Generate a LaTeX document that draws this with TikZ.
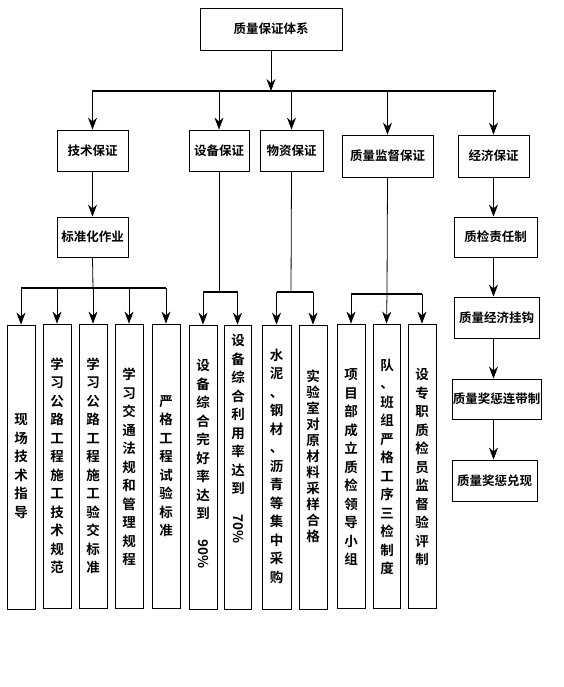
\documentclass[tikz,border=0pt]{standalone}
\usepackage{fontspec}
\usepackage{graphicx}
\setmainfont{Noto Sans CJK SC}[BoldFont={Noto Sans CJK SC Bold}]
\usetikzlibrary{arrows.meta}
\tikzset{
 hbox/.style={draw, line width=0.8pt, inner sep=0pt, font=\fontsize{12.5}{14}\selectfont\bfseries},
 vbox/.style={draw, line width=0.8pt, inner sep=0pt, minimum width=28pt, minimum height=284pt},
 vtext/.style={align=center, inner sep=0pt, font=\fontsize{13.5}{18.5}\selectfont\bfseries},
 arr/.style={line width=0.8pt, -{Stealth[length=12pt,width=9pt]}},
 busline/.style={line width=2pt},
 link/.style={line width=0.8pt}
}
\begin{document}
\begin{tikzpicture}[x=1pt,y=-1pt]
\useasboundingbox (0,0) rectangle (564,687);
% top
\node[hbox, minimum width=142pt, minimum height=42pt] (top) at (271,29) {质量保证体系};
% level 2
\node[hbox, minimum width=71pt, minimum height=41pt] (t1) at (92.5,150.5) {技术保证};
\node[hbox, minimum width=60pt, minimum height=41pt] (t2) at (219,150.5) {设备保证};
\node[hbox, minimum width=63pt, minimum height=41pt] (t3) at (291.5,150.5) {物资保证};
\node[hbox, minimum width=91pt, minimum height=42pt] (t4) at (387.5,156) {质量监督保证};
\node[hbox, minimum width=71pt, minimum height=42pt] (t5) at (493.5,156) {经济保证};
% main bus
\coordinate (busL) at (92,91);
\coordinate (busR) at (496,91);
\coordinate (busM) at (271,91);
\draw[busline] (busL) -- (busR);
\draw[arr] (top.south) -- (busM);
\draw[arr] (t1.north |- busM) -- (t1.north);
\draw[arr] (t2.north |- busM) -- (t2.north);
\draw[arr] (t3.north |- busM) -- (t3.north);
\draw[arr] (t4.north |- busM) -- (t4.north);
\draw[arr] (t5.north |- busM) -- (t5.north);
% technical branch
\node[hbox, minimum width=71pt, minimum height=40pt] (s1) at (92.5,237) {标准化作业};
\draw[arr] (t1.south) -- (s1.north);
% vertical boxes
\node[vbox] (v1) at (21,467) {};
\node[vbox] (v2) at (57,466) {};
\node[vbox] (v3) at (93,466) {};
\node[vbox] (v4) at (129,466) {};
\node[vbox] (v5) at (166,466) {};
\node[vbox] (v6) at (203,467) {};
\node[vbox, minimum width=27pt] (v7) at (237.5,467) {};
\node[vbox, minimum width=29pt] (v8) at (276.5,467) {};
\node[vbox] (v9) at (313,467) {};
\node[vbox] (v10) at (351,466) {};
\node[vbox, minimum width=27pt] (v11) at (386.5,466) {};
\node[vbox] (v12) at (422,466) {};
% texts
\node[vtext] (x1) at (21,466) {现\\场\\技\\术\\指\\导};
\node[vtext] (x2) at (57,466) {学\\习\\公\\路\\工\\程\\施\\工\\技\\术\\规\\范};
\node[vtext] (x3) at (93,466) {学\\习\\公\\路\\工\\程\\施\\工\\验\\交\\标\\准};
\node[vtext] (x4) at (129,467) {学\\习\\交\\通\\法\\规\\和\\管\\理\\规\\程};
\node[vtext] (x5) at (166,466) {严\\格\\工\\程\\试\\验\\标\\准};
\node[vtext] (x6) at (203,464) {设\\备\\综\\合\\完\\好\\率\\达\\到\\[2pt]\rotatebox{-90}{90\%}};
\node[vtext] (x7) at (238,439) {设\\备\\综\\合\\利\\用\\率\\达\\到\\[2pt]\rotatebox{-90}{70\%}};
\node[vtext] (x8) at (276.5,466) {水\\泥\\、\\钢\\材\\、\\沥\\青\\等\\集\\中\\采\\购};
\node[vtext, font=\fontsize{13.5}{16}\selectfont\bfseries] (x9) at (313,456) {实\\验\\室\\对\\原\\材\\料\\采\\样\\合\\格};
\node[vtext] (x10) at (351,467) {项\\目\\部\\成\\立\\质\\检\\领\\导\\小\\组};
\node[vtext] (x11) at (387,467) {队\\、\\班\\组\\严\\格\\工\\序\\三\\检\\制\\度};
\node[vtext] (x12) at (422,467) {设\\专\\职\\质\\检\\员\\监\\督\\验\\评\\制};
% technical sub-bus
\coordinate (b1) at (93,288);
\draw[link] (s1.south) -- (b1);
\draw[busline] (v1.north |- b1) -- (v5.north |- b1);
\foreach \v in {v1,v2,v3,v4,v5} \draw[arr] (\v.north |- b1) -- (\v.north);
% equipment sub-bus
\coordinate (b2) at (219,292);
\draw[link] (t2.south) -- (b2);
\draw[busline] (v6.north |- b2) -- (v7.north |- b2);
\foreach \v in {v6,v7} \draw[arr] (\v.north |- b2) -- (\v.north);
% material sub-bus
\coordinate (b3) at (291,292);
\draw[link] (t3.south) -- (b3);
\draw[busline] (v8.north |- b3) -- (v9.north |- b3);
\foreach \v in {v8,v9} \draw[arr] (\v.north |- b3) -- (\v.north);
% supervision sub-bus
\coordinate (b4) at (387,294);
\draw[link] (t4.south) -- (b4);
\draw[busline] (v10.north |- b4) -- (v12.north |- b4);
\draw[arr] (v10.north |- b4) -- (v10.north);
\draw[arr] (b4) -- (v11.north);
\draw[arr] (v12.north |- b4) -- (v12.north);
% economic branch
\node[hbox, minimum width=83pt, minimum height=40pt] (e1) at (495.5,237) {质检责任制};
\node[hbox, minimum width=85pt, minimum height=41pt] (e2) at (496.5,317.5) {质量经济挂钩};
\node[hbox, minimum width=89pt, minimum height=40pt] (e3) at (496.5,399) {质量奖惩连带制};
\node[hbox, minimum width=85pt, minimum height=41pt] (e4) at (494.5,480.5) {质量奖惩兑现};
\draw[arr] (t5.south) -- (t5.south |- e1.north);
\draw[arr] (t5.south |- e1.south) -- (t5.south |- e2.north);
\draw[arr] (t5.south |- e2.south) -- (t5.south |- e3.north);
\draw[arr] (t5.south |- e3.south) -- (t5.south |- e4.north);
\end{tikzpicture}
\end{document}
